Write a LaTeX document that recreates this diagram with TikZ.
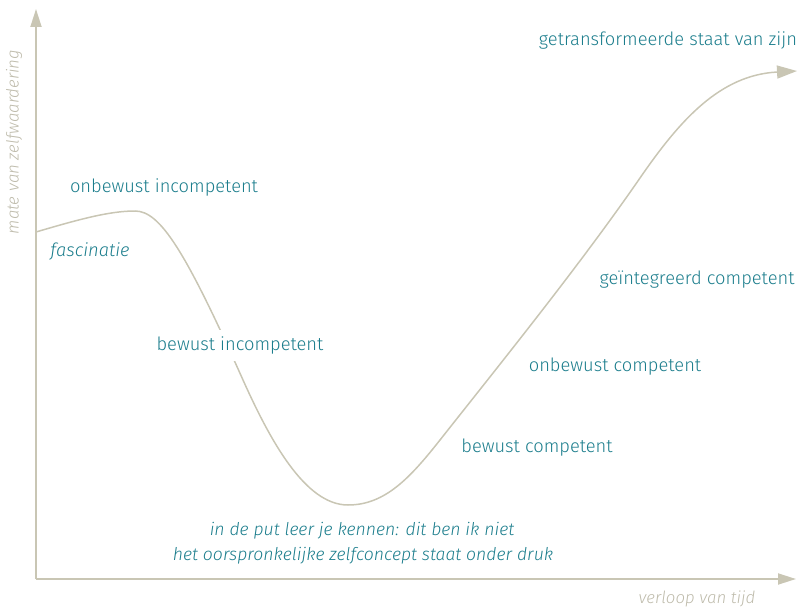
\documentclass[tikz,border=0pt]{standalone}
\usepackage{fontspec}
\setmainfont{Fira Sans}[UprightFont=* Light, ItalicFont=* Light Italic]
\usetikzlibrary{arrows.meta}
\definecolor{axisc}{HTML}{C9C6B4}
\definecolor{teal}{HTML}{1B7D8C}
\definecolor{greyc}{HTML}{BEBBAB}
\tikzset{
  axisline/.style={draw=axisc, line width=1.8pt, -{Triangle[length=18pt,width=11pt]}},
  curveline/.style={draw=axisc, line width=1.5pt, -{Triangle[length=20pt,width=13pt]}},
  lbl/.style={text=teal, font=\fontsize{18.3}{22}\selectfont, inner sep=1pt},
  ilbl/.style={lbl, font=\fontsize{18.3}{22}\selectfont\itshape},
  putlbl/.style={lbl, font=\fontsize{17.6}{21}\selectfont\itshape},
  axlbl/.style={text=greyc, font=\fontsize{16.8}{19}\selectfont\itshape, inner sep=1pt}
}
\begin{document}
\begin{tikzpicture}[x=1pt,y=-1pt]
\useasboundingbox (0,0) rectangle (798,607);
\coordinate (o) at (36,579);
\coordinate (ytip) at (36,9);
\coordinate (xtip) at (796,579);
\coordinate (c0) at (36,232);
\coordinate (c1) at (135,211);
\coordinate (c2) at (243,380);
\coordinate (c3) at (348,505);
\coordinate (c4) at (440,440);
\coordinate (c5) at (640,178);
\coordinate (c6) at (797,71);
\draw[axisline] (o) -- (ytip);
\draw[axisline] (o) -- (xtip);
\draw[curveline] (c0) .. controls (80,219) and (110,211) .. (c1)
  .. controls (160,211) and (185,250) .. (c2)
  .. controls (270,440) and (305,505) .. (c3)
  .. controls (385,505) and (410,478) .. (c4)
  .. controls (500,364) and (580,265) .. (c5)
  .. controls (680,120) and (720,75) .. (c6);
\node[lbl] (gts) at (668,40) {getransformeerde staat van zijn};
\node[lbl] (oi) at (164,187.5) {onbewust incompetent};
\node[ilbl] (fa) at (90,251.5) {fascinatie};
\node[lbl, fill=white, inner xsep=3pt, inner ysep=7pt] (bi) at (240,345.5) {bewust incompetent};
\node[lbl] (gc) at (697,279.5) {geïntegreerd competent};
\node[lbl] (oc) at (615,366.5) {onbewust competent};
\node[lbl] (bc) at (537,447.5) {bewust competent};
\node[putlbl] (put1) at (362,531) {in de put leer je kennen: dit ben ik niet};
\node[putlbl] (put2) at (363,556) {het oorspronkelijke zelfconcept staat onder druk};
\node[axlbl] (xl) at (697,599) {verloop van tijd};
\node[axlbl, rotate=90] (yl) at (14,142) {mate van zelfwaardering};
\end{tikzpicture}
\end{document}
